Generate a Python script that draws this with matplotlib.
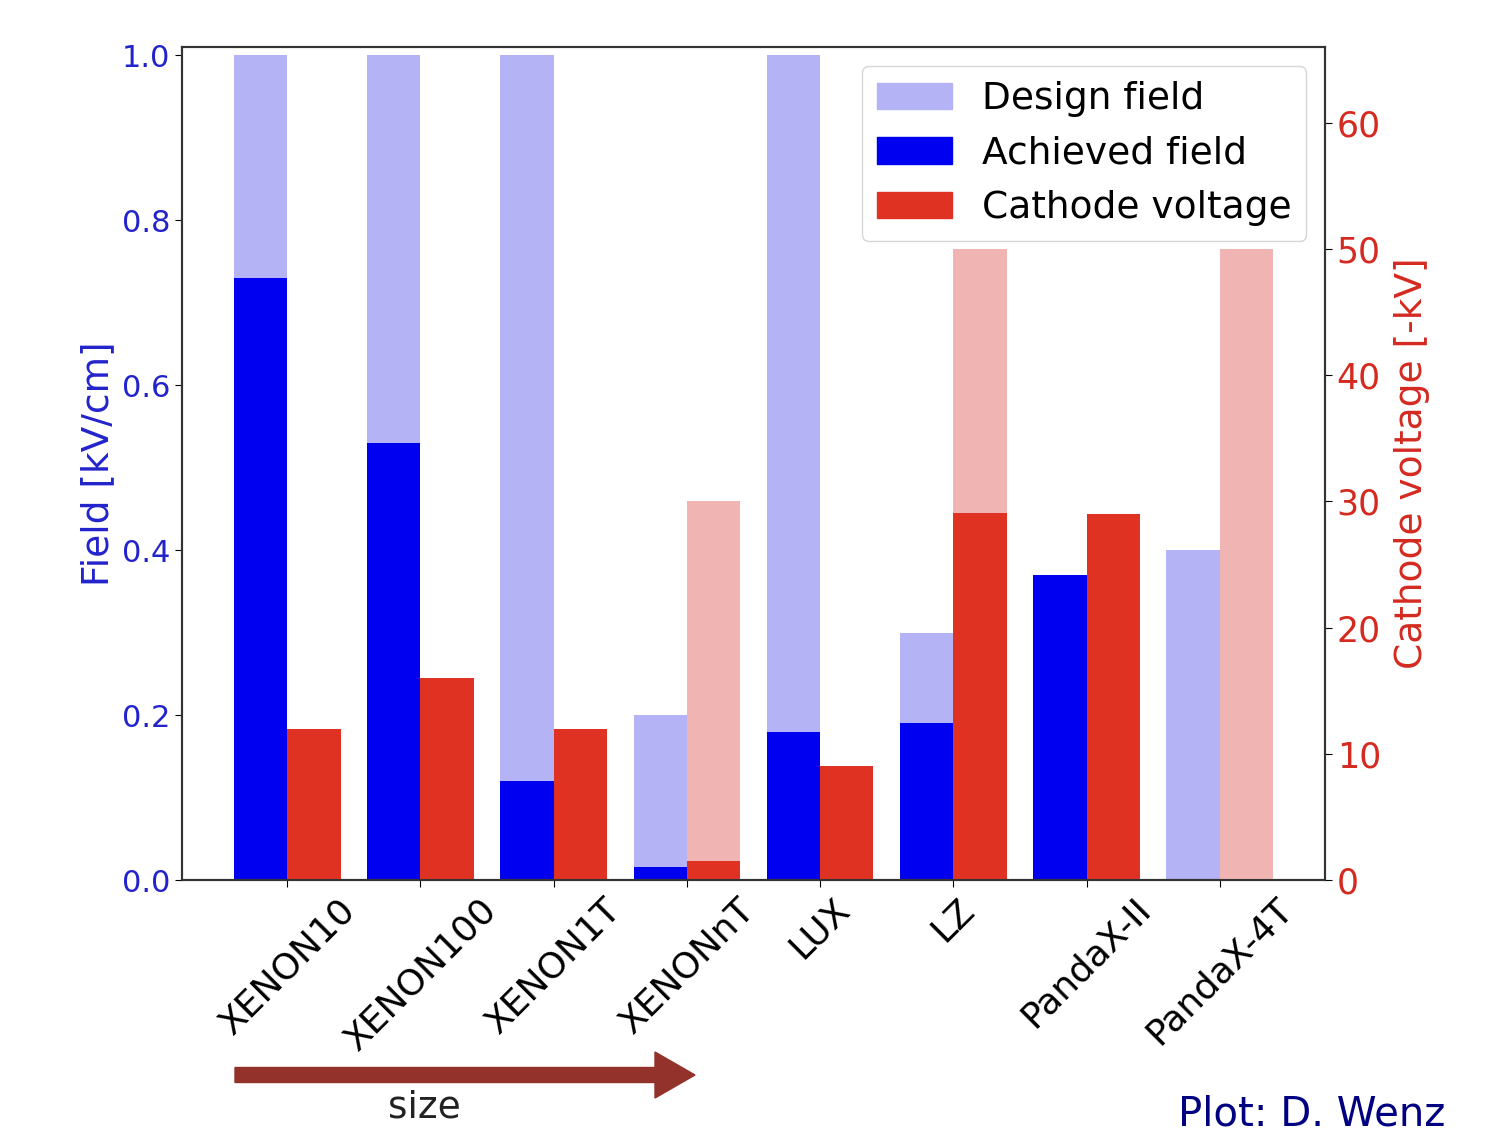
import numpy as np
import matplotlib
matplotlib.use("Agg")
import matplotlib.pyplot as plt
from matplotlib.patches import Patch

# experiments, ordered by size
experiments = ["XENON10", "XENON100", "XENON1T", "XENONnT", "LUX", "LZ", "PandaX-II", "PandaX-4T"]

# drift field [kV/cm]
design_field = [1.0, 1.0, 1.0, 0.2, 1.0, 0.3, 0.0, 0.4]
achieved_field = [0.73, 0.53, 0.12, 0.016, 0.18, 0.19, 0.37, 0.0]

# cathode voltage [-kV]
design_voltage = [0.0, 0.0, 0.0, 30.0, 0.0, 50.0, 0.0, 50.0]
achieved_voltage = [12.0, 16.0, 12.0, 1.5, 9.0, 29.1, 29.0, 0.0]

BLUE = "#0000f0"
LIGHT_BLUE = "#b3b3f5"
RED = "#e03222"
LIGHT_RED = "#f0b4b2"
TICK_BLUE = "#2323cc"
TICK_RED = "#d42a20"

fig = plt.figure(figsize=(14.99, 11.42), dpi=100)
ax = fig.add_axes([0.1214, 0.2294, 0.7625, 0.7294])
ax2 = ax.twinx()

x = np.arange(len(experiments))
w = 0.4

ax.bar(x - w / 2, design_field, w, color=LIGHT_BLUE)
ax.bar(x - w / 2, achieved_field, w, color=BLUE)
ax2.bar(x + w / 2, design_voltage, w, color=LIGHT_RED)
ax2.bar(x + w / 2, achieved_voltage, w, color=RED)

ax.set_ylim(0, 1.01)
ax2.set_ylim(0, 66)
ax.set_yticks([0.0, 0.2, 0.4, 0.6, 0.8, 1.0])
ax2.set_yticks([0, 10, 20, 30, 40, 50, 60])

ax.set_xticks(x)
ax.set_xticklabels(experiments, rotation=45, fontsize=26)
ax.tick_params(axis="y", labelsize=22, labelcolor=TICK_BLUE, length=5)
ax2.tick_params(axis="y", labelsize=25, labelcolor=TICK_RED, length=5)
ax.tick_params(axis="x", length=5)

ax.set_ylabel("Field [kV/cm]", fontsize=27, color=TICK_BLUE, labelpad=4)
ax2.set_ylabel("Cathode voltage [-kV]", fontsize=27, color=TICK_RED, labelpad=9)

for a in (ax, ax2):
    for s in a.spines.values():
        s.set_linewidth(1.5)
        s.set_color("#333333")

handles = [Patch(color=LIGHT_BLUE), Patch(color=BLUE), Patch(color=RED)]
ax2.legend(handles, ["Design field", "Achieved field", "Cathode voltage"],
           loc="upper right", fontsize=27, handlelength=2.0)

# "size" arrow under the first experiments
fig.patches.append(matplotlib.patches.FancyArrow(
    235 / 1499, 1 - 1075 / 1142, 420 / 1499, 0, width=15 / 1142,
    head_width=46 / 1142, head_length=40 / 1499, length_includes_head=False,
    color="#93322a", transform=fig.transFigure))
fig.text(424 / 1499, 1 - 1107 / 1142, "size", fontsize=27, color="#222222",
         ha="center", va="center")
fig.text(1445 / 1499, 1 - 1115 / 1142, "Plot: D. Wenz", fontsize=29, color="#000080",
         ha="right", va="center")

fig.savefig("out.png", dpi=100)
